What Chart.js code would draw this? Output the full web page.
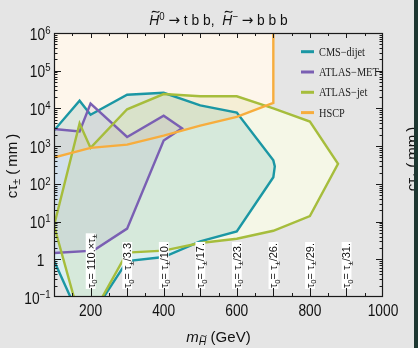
<!DOCTYPE html>
<html>
<head>
<meta charset="utf-8">
<title>Higgsino decay limits</title>
<script src="https://cdn.jsdelivr.net/npm/chart.js@4.4.1/dist/chart.umd.min.js"></script>
<style>
  html, body { margin: 0; padding: 0; background: #e5e5e5; overflow: hidden; }
  canvas { display: block; }
</style>
</head>
<body>
<canvas id="limits" width="418" height="348"></canvas>
<script>
// ===== Data (mass in GeV, c*tau in mm) =====
// each region is a closed outline; points outside the frame get clipped
const cmsMass  = [90, 170, 200, 300, 400, 500, 600, 700, 704, 700, 600, 500, 400, 300, 216, 159, 90, 90];
const cmsCtau  = [2000, 16000, 6800, 23000, 26000, 12000, 7800, 420, 290, 150, 5.5, 3, 1.15, 0.9, 0.05, 0.05, 1.5, 2000];

const metMass  = [90, 170, 200, 300, 400, 450, 400, 300, 208, 100, 90, 90];
const metCtau  = [2900, 2450, 13500, 1750, 6400, 3000, 1400, 6.5, 1.7, 1.47, 1.46, 2900];

const jetMass  = [100, 170, 200, 300, 400, 500, 600, 700, 800, 877, 800, 700, 600, 500, 400, 300, 215, 163, 100];
const jetCtau  = [7.8, 4000, 900, 9500, 24000, 21000, 21000, 10000, 4500, 340, 14, 5.7, 3.5, 2.7, 1.7, 1.5, 0.05, 0.05, 7.8];

const hscpMass = [90, 200, 300, 400, 500, 600, 700, 700, 90, 90];
const hscpCtau = [473, 900, 1100, 1900, 3500, 6000, 14000, 2e6, 2e6, 473];

const seriesNames = ['CMS\u2212dijet', 'ATLAS\u2212MET', 'ATLAS\u2212jet', 'HSCP'];

const xTickValues = [200, 400, 600, 800, 1000];
const yTickExponents = [-1, 0, 1, 2, 3, 4, 5, 6];

const tauMass = [200, 300, 400, 500, 600, 700, 800, 900];
const tauText = ['110.\u00d7\u03c4\u00b1', '\u03c4\u00b1/3.3', '\u03c4\u00b1/10.', '\u03c4\u00b1/17.',
                 '\u03c4\u00b1/23.', '\u03c4\u00b1/26.', '\u03c4\u00b1/29.', '\u03c4\u00b1/31.'];

// ===== Styles =====
const lineColors = { cms: '#1b97a4', met: '#7a5fb3', jet: '#a6bd3c', hscp: '#f7ad3d' };
const fillColors = {
  cms: 'rgba(20,150,165,0.15)',
  met: 'rgba(110,80,180,0.09)',
  jet: 'rgba(170,190,60,0.12)',
  hscp: 'rgba(245,165,60,0.10)'
};
const SANS = '"Liberation Sans", Arial, sans-serif';
const SERIF = '"Liberation Serif", "Times New Roman", serif';
const ARROW = '"DejaVu Sans", sans-serif';

const pts = (xs, ys) => xs.map((x, i) => ({ x: x, y: ys[i] }));

function outline(data, color, fill) {
  return { data: data, borderColor: color, borderWidth: 2.4, backgroundColor: fill,
           fill: 'shape', pointRadius: 0, tension: 0 };
}
// opaque pale base under the translucent fills
function base(data) {
  return { data: data, borderColor: 'rgba(0,0,0,0)', borderWidth: 0, backgroundColor: '#ffffff',
           fill: 'shape', pointRadius: 0, tension: 0 };
}

// ===== Text helpers (sub/superscripts, italic, tilde) =====
function runFont(f, size, fam) {
  const small = f.includes('b') || f.includes('p');
  const family = f.includes('a') ? ARROW : fam;
  return (f.includes('i') ? 'italic ' : '') + (small ? size * 0.7 : size).toFixed(1) + 'px ' + family;
}
function runsWidth(ctx, runs, size, fam) {
  let w = 0;
  runs.forEach(([t, f = '']) => { ctx.font = runFont(f, size, fam); w += ctx.measureText(t).width; });
  return w;
}
function drawTilde(ctx, cx, cy, w) {
  const h = w * 0.16;
  ctx.save();
  ctx.lineWidth = Math.max(1, w * 0.13);
  ctx.strokeStyle = ctx.fillStyle;
  ctx.beginPath();
  ctx.moveTo(cx - w / 2, cy + h * 0.5);
  ctx.bezierCurveTo(cx - w / 6, cy - h * 2.2, cx + w / 6, cy + h * 2.2, cx + w / 2, cy - h * 0.5);
  ctx.stroke();
  ctx.restore();
}
function drawRuns(ctx, runs, x, y, size, fam, align) {
  const w = runsWidth(ctx, runs, size, fam);
  let cx = align === 'center' ? x - w / 2 : align === 'right' ? x - w : x;
  ctx.textAlign = 'left';
  ctx.textBaseline = 'alphabetic';
  runs.forEach(([t, f = '']) => {
    const s = (f.includes('b') || f.includes('p')) ? size * 0.7 : size;
    const dy = f.includes('p') ? -size * 0.36 : f.includes('b') ? size * 0.22 : 0;
    ctx.font = runFont(f, size, fam);
    ctx.fillText(t, cx, y + dy);
    const tw = ctx.measureText(t).width;
    if (f.includes('t')) drawTilde(ctx, cx + tw / 2 + (f.includes('i') ? s * 0.1 : 0), y + dy - s * 0.88, s * 0.55);
    cx += tw;
  });
  return w;
}
function tauRuns(txt) {
  const runs = [['\u03c4'], ['0', 'b'], ['= ']];
  const parts = txt.split('\u00b1');
  parts.forEach((p, i) => {
    if (p) runs.push([p]);
    if (i < parts.length - 1) runs.push(['\u00b1', 'b']);
  });
  return runs;
}

// ===== Frame, ticks, labels, legend =====
const decorations = {
  id: 'decorations',
  beforeDraw(chart) {
    const ctx = chart.ctx;
    ctx.save();
    ctx.fillStyle = '#e5e5e5';
    ctx.fillRect(0, 0, chart.width, chart.height);
    ctx.restore();
  },
  afterDatasetsDraw(chart) {
    const ctx = chart.ctx;
    const ca = chart.chartArea;
    const xs = chart.scales.x, ys = chart.scales.y;
    ctx.save();

    // tau0 labels sitting on the bottom axis
    tauMass.forEach((m, i) => {
      const px = xs.getPixelForValue(m);
      const runs = tauRuns(tauText[i]);
      ctx.save();
      ctx.translate(px, ca.bottom - 9);
      ctx.rotate(-Math.PI / 2);
      const w = runsWidth(ctx, runs, 11, SANS);
      ctx.fillStyle = '#ffffff';
      ctx.fillRect(-1, -4.8, w + 2, 9.8);
      ctx.fillStyle = '#111';
      drawRuns(ctx, runs, 0, 4, 11, SANS, 'left');
      ctx.restore();
    });

    // frame
    ctx.strokeStyle = '#1a1a1a';
    ctx.lineWidth = 1.2;
    ctx.strokeRect(ca.left + 0.5, ca.top + 0.5, ca.right - ca.left - 1, ca.bottom - ca.top - 1);

    // ticks
    ctx.lineWidth = 1;
    const seg = (x1, y1, x2, y2) => { ctx.beginPath(); ctx.moveTo(x1, y1); ctx.lineTo(x2, y2); ctx.stroke(); };
    for (let m = 150; m < 1000; m += 50) {
      const px = Math.round(xs.getPixelForValue(m)) + 0.5;
      const major = m % 100 === 0;
      seg(px, ca.bottom, px, ca.bottom - (major ? 9 : 4));
      seg(px, ca.top, px, ca.top + (major ? 5 : 3));
    }
    for (let e = -1; e <= 5; e++) {
      for (let k = 1; k <= 9; k++) {
        if (e === -1 && k === 1) continue;
        const py = Math.round(ys.getPixelForValue(k * Math.pow(10, e))) + 0.5;
        const len = k === 1 ? 7 : 3.5;
        seg(ca.left, py, ca.left + len, py);
        seg(ca.right, py, ca.right - len, py);
      }
    }

    // tick labels (condensed look)
    ctx.fillStyle = '#111';
    xTickValues.forEach(v => {
      ctx.save();
      ctx.translate(xs.getPixelForValue(v), ca.bottom + 18.5);
      ctx.scale(0.86, 1);
      ctx.font = '16px ' + SANS;
      ctx.textAlign = 'center';
      ctx.textBaseline = 'alphabetic';
      ctx.fillText(String(v), 0, 0);
      ctx.restore();
    });
    yTickExponents.forEach(e => {
      const py = ys.getPixelForValue(Math.pow(10, e));
      ctx.save();
      ctx.translate(ca.left - 3.5, py + 6.5);
      ctx.scale(0.86, 1);
      if (e === 0) {
        drawRuns(ctx, [['1']], -7, 0, 16, SANS, 'right');
      } else {
        drawRuns(ctx, [['10'], [String(e).replace('-', '\u2212'), 'p']], 0, 0, 16, SANS, 'right');
      }
      ctx.restore();
    });

    // legend
    const lx = ca.right - 82;
    const keys = ['cms', 'met', 'jet', 'hscp'];
    keys.forEach((k, i) => {
      const y = ca.top + 18.7 + i * 20.3;
      ctx.strokeStyle = lineColors[k];
      ctx.lineWidth = 3;
      seg(lx, y, lx + 13, y);
      ctx.save();
      ctx.translate(lx + 18, y + 4);
      ctx.scale(0.86, 1);
      ctx.fillStyle = '#222';
      ctx.font = '12px ' + SERIF;
      ctx.textAlign = 'left';
      ctx.textBaseline = 'alphabetic';
      ctx.fillText(seriesNames[i], 0, 0);
      ctx.restore();
    });

    // title
    ctx.fillStyle = '#111';
    ctx.save();
    ctx.translate((ca.left + ca.right) / 2, 25);
    ctx.scale(0.92, 1);
    drawRuns(ctx, [['H', 'it'], ['0', 'p'], [' '], ['\u2192', 'a'], [' t b b,  '], ['H', 'it'], ['\u2212', 'p'],
                   [' '], ['\u2192', 'a'], [' b b b']], 0, 0, 15, SANS, 'center');
    ctx.restore();

    // x axis title
    drawRuns(ctx, [['m', 'i'], ['H', 'bit'], [' (GeV)']], (ca.left + ca.right) / 2, 342, 15, SANS, 'center');

    // y axis title
    const yRuns = [['c\u03c4'], ['\u00b1', 'b'], [' (\u2009mm\u2009)']];
    ctx.save();
    ctx.translate(17, (ca.top + ca.bottom) / 2 + 1);
    ctx.rotate(-Math.PI / 2);
    drawRuns(ctx, yRuns, 0, 0, 15, SANS, 'center');
    ctx.restore();

    // edge of the neighbouring panel
    ctx.save();
    ctx.beginPath();
    ctx.rect(0, 0, 414, chart.height);
    ctx.clip();
    ctx.translate(417, (ca.top + ca.bottom) / 2 - 6);
    ctx.rotate(-Math.PI / 2);
    drawRuns(ctx, yRuns, 0, 0, 15, SANS, 'center');
    ctx.restore();
    ctx.fillStyle = '#1d3731';
    ctx.fillRect(414, 0, chart.width - 414, chart.height);

    ctx.restore();
  }
};

const cmsData = pts(cmsMass, cmsCtau);
const metData = pts(metMass, metCtau);
const jetData = pts(jetMass, jetCtau);
const hscpData = pts(hscpMass, hscpCtau);

new Chart(document.getElementById('limits'), {
  type: 'line',
  data: {
    datasets: [
      outline(hscpData, lineColors.hscp, fillColors.hscp),
      outline(jetData, lineColors.jet, fillColors.jet),
      outline(metData, lineColors.met, fillColors.met),
      outline(cmsData, lineColors.cms, fillColors.cms),
      base(hscpData), base(jetData), base(metData), base(cmsData)
    ]
  },
  options: {
    responsive: false,
    animation: false,
    devicePixelRatio: 1,
    layout: { padding: { left: 54, top: 33, right: 35, bottom: 51 } },
    scales: {
      x: { type: 'linear', min: 100, max: 1000, display: false },
      y: { type: 'logarithmic', min: 0.1, max: 1e6, display: false }
    },
    plugins: {
      legend: { display: false },
      tooltip: { enabled: false },
      filler: { drawTime: 'beforeDatasetsDraw' }
    }
  },
  plugins: [decorations]
});
</script>
</body>
</html>
